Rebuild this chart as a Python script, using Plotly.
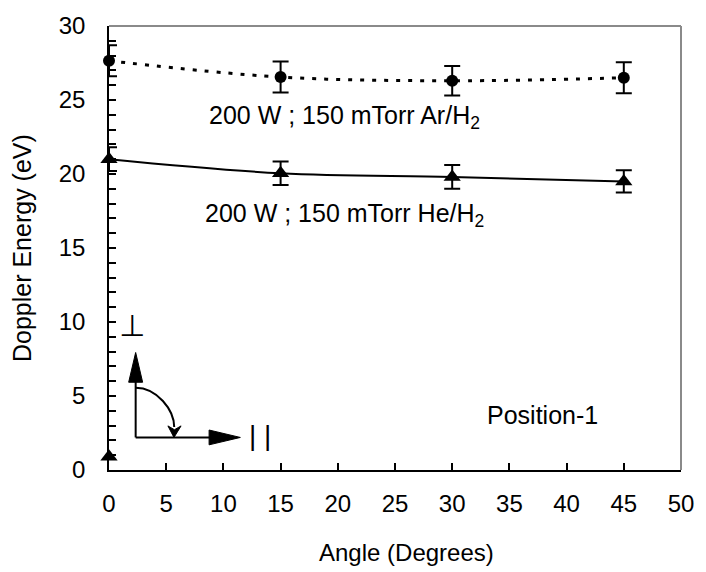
import plotly.graph_objects as go

# Doppler energy vs. observation angle, 200 W / 150 mTorr discharges
angle = [0, 15, 30, 45]
ar_energy = [27.65, 26.55, 26.3, 26.5]
ar_err = [1.05, 1.05, 1.0, 1.05]
he_energy = [21.0, 20.05, 19.8, 19.5]
he_err = [0.8, 0.8, 0.8, 0.75]
extra_angle = [0]
extra_energy = [0.9]

x_ticks = [0, 5, 10, 15, 20, 25, 30, 35, 40, 45, 50]
y_ticks = [0, 5, 10, 15, 20, 25, 30]

FONT = "Liberation Sans, Arial, sans-serif"

fig = go.Figure()

# Ar/H2 series: dotted smoothed line with circles
fig.add_trace(go.Scatter(
    x=angle, y=ar_energy, mode="lines+markers",
    line=dict(color="black", width=3, dash="4px,8px", shape="spline"),
    marker=dict(symbol="circle", size=12, color="black"),
    error_y=dict(type="data", array=ar_err, color="black", thickness=2, width=8),
    cliponaxis=False, showlegend=False,
))

# He/H2 series: solid smoothed line with triangles
fig.add_trace(go.Scatter(
    x=angle, y=he_energy, mode="lines+markers",
    line=dict(color="black", width=2, shape="spline"),
    marker=dict(symbol="triangle-up", size=15, color="black"),
    error_y=dict(type="data", array=he_err, color="black", thickness=2, width=8),
    cliponaxis=False, showlegend=False,
))

fig.add_trace(go.Scatter(
    x=extra_angle, y=extra_energy, mode="markers",
    marker=dict(symbol="triangle-up", size=15, color="black"),
    cliponaxis=False, showlegend=False,
))

shapes = [
    # grey frame on top and right
    dict(type="line", xref="paper", yref="paper", x0=0, y0=1, x1=1, y1=1,
         line=dict(color="#8a8a8a", width=2)),
    dict(type="line", xref="paper", yref="paper", x0=1, y0=0, x1=1, y1=1,
         line=dict(color="#8a8a8a", width=2)),
    # polarisation diagram: perpendicular axis arrow
    dict(type="line", xref="x", yref="y", x0=2.33, y0=2.2, x1=2.33, y1=6.0,
         line=dict(color="black", width=2)),
    dict(type="path", xref="x", yref="y",
         path="M 1.72,5.93 L 2.33,7.94 L 2.94,5.93 Z",
         fillcolor="black", line=dict(color="black", width=1)),
    # parallel axis arrow
    dict(type="line", xref="x", yref="y", x0=2.33, y0=2.2, x1=8.9, y1=2.2,
         line=dict(color="black", width=2)),
    dict(type="path", xref="x", yref="y",
         path="M 8.75,2.7 L 11.48,2.2 L 8.75,1.7 Z",
         fillcolor="black", line=dict(color="black", width=1)),
    # rotation arc from perpendicular to parallel
    dict(type="path", xref="x", yref="y",
         path="M 2.33,5.56 C 4.19,5.56 5.70,4.05 5.70,2.9",
         line=dict(color="black", width=2)),
    dict(type="path", xref="x", yref="y",
         path="M 5.15,2.98 L 5.68,2.2 L 6.30,2.98 L 5.72,2.72 Z",
         fillcolor="black", line=dict(color="black", width=1)),
]

annotations = [
    dict(x=20.6, y=23.85, xref="x", yref="y",
         text="200 W ; 150 mTorr Ar/H<sub>2</sub>", showarrow=False,
         font=dict(family=FONT, size=25, color="black")),
    dict(x=20.6, y=17.2, xref="x", yref="y",
         text="200 W ; 150 mTorr He/H<sub>2</sub>", showarrow=False,
         font=dict(family=FONT, size=25, color="black")),
    dict(x=37.85, y=3.75, xref="x", yref="y", text="Position-1",
         showarrow=False, font=dict(family=FONT, size=25, color="black")),
    dict(x=2.0, y=9.75, xref="x", yref="y", text="⊥", showarrow=False,
         font=dict(family="DejaVu Sans", size=30, color="black")),
    dict(x=13.2, y=2.3, xref="x", yref="y", text="| |", showarrow=False,
         font=dict(family=FONT, size=28, color="black")),
    # axis titles
    dict(x=26.0, y=-0.186, xref="x", yref="paper", text="Angle (Degrees)",
         showarrow=False, yanchor="middle",
         font=dict(family=FONT, size=24, color="black")),
    dict(x=-0.152, y=0.50, xref="paper", yref="paper", text="Doppler Energy (eV)",
         showarrow=False, textangle=-90, xanchor="center", yanchor="middle",
         font=dict(family=FONT, size=25, color="black")),
]

fig.update_layout(
    width=706, height=572,
    margin=dict(l=109, r=18, t=23, b=102),
    paper_bgcolor="white", plot_bgcolor="white",
    font=dict(family=FONT, size=24, color="black"),
    shapes=shapes, annotations=annotations,
    showlegend=False,
)

fig.update_xaxes(
    range=[0, 50], tickvals=x_ticks, ticktext=[str(v) for v in x_ticks],
    ticks="inside", ticklen=7, tickwidth=1.5, tickcolor="black",
    showline=True, linecolor="black", linewidth=1.5,
    showgrid=False, zeroline=False, layer="below traces",
    ticklabelstandoff=11, tickfont=dict(family=FONT, size=24, color="black"),
)
fig.update_yaxes(
    range=[0, 30], tickvals=y_ticks, ticktext=[str(v) for v in y_ticks],
    ticks="inside", ticklen=7, tickwidth=1.5, tickcolor="black",
    minor=dict(dtick=1, ticks="inside", ticklen=7, tickwidth=1.5, tickcolor="black"),
    showline=True, linecolor="black", linewidth=1.5,
    showgrid=False, zeroline=False, layer="below traces",
    ticklabelstandoff=17, tickfont=dict(family=FONT, size=24, color="black"),
)

fig.write_html("out.html")
